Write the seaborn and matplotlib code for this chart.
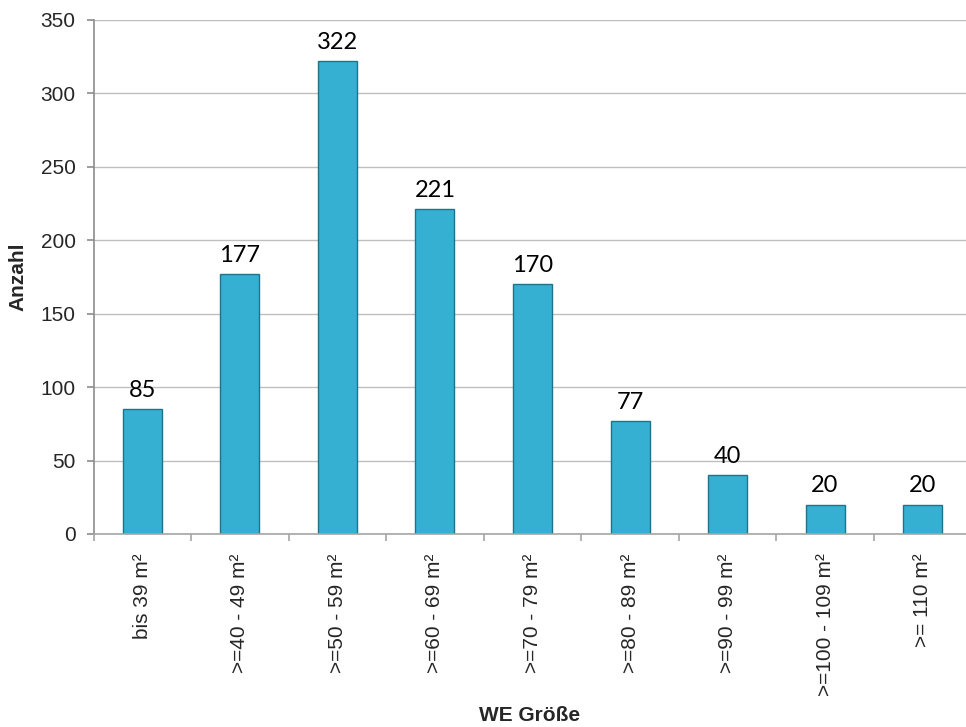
import matplotlib
matplotlib.use("Agg")
import matplotlib.pyplot as plt
import seaborn as sns
import pandas as pd

# ==========================
# DATA
# ==========================
categories = [
    "bis 39 m²",
    ">=40 - 49 m²",
    ">=50 - 59 m²",
    ">=60 - 69 m²",
    ">=70 - 79 m²",
    ">=80 - 89 m²",
    ">=90 - 99 m²",
    ">=100 - 109 m²",
    ">= 110 m²",
]
counts = [85, 177, 322, 221, 170, 77, 40, 20, 20]
y_ticks = [0, 50, 100, 150, 200, 250, 300, 350]

df = pd.DataFrame({"WE Größe": categories, "Anzahl": counts})

# ==========================
# STYLE
# ==========================
sns.set_style("white")
plt.rcParams["font.family"] = ["Liberation Sans", "DejaVu Sans"]

fig = plt.figure(figsize=(9.66, 7.27), dpi=100)
ax = fig.add_axes([0.097, 0.2655, 0.9085, 0.707])

sns.barplot(
    data=df,
    x="WE Größe",
    y="Anzahl",
    color="#36B0D2",
    saturation=1,
    width=0.4,
    edgecolor="#1D738C",
    linewidth=1.0,
    ax=ax,
)

# value labels
for cont in ax.containers:
    ax.bar_label(cont, padding=6, fontsize=17, family="Lato", color="#000000")

# ==========================
# AXES
# ==========================
ax.set_ylim(0, 350)
ax.set_yticks(y_ticks)
ax.set_xlim(-0.5, len(categories) - 0.5)
ax.yaxis.grid(True, color="#BFBFBF", linewidth=1.0)
ax.set_axisbelow(True)

for s in ["top", "right"]:
    ax.spines[s].set_visible(False)
ax.spines["left"].set_color("#8C8C8C")
ax.spines["bottom"].set_color("#A6A6A6")
ax.spines["left"].set_linewidth(1.2)
ax.spines["bottom"].set_linewidth(1.2)

# category labels in the middle, tick marks at the boundaries
ax.set_xticks(range(len(categories)))
ax.set_xticklabels(categories, rotation=90, fontsize=15,
                   rotation_mode="anchor", ha="right", va="center")
ax.tick_params(axis="x", which="major", length=0, pad=14)
ax.set_xticks([i - 0.5 for i in range(len(categories) + 1)], minor=True)
ax.tick_params(axis="x", which="minor", length=5, width=1.2, color="#A6A6A6",
               direction="out", bottom=True)
ax.tick_params(axis="y", length=5, width=1.2, color="#8C8C8C", direction="out",
               left=True, labelsize=15, pad=8)

ax.set_xlabel("WE Größe", fontsize=15, fontweight="bold")
ax.set_ylabel("Anzahl", fontsize=15, fontweight="bold")
ax.xaxis.set_label_coords(0.497, -0.335)
ax.yaxis.set_label_coords(-0.075, 0.5)

fig.savefig("out.png", dpi=100)
